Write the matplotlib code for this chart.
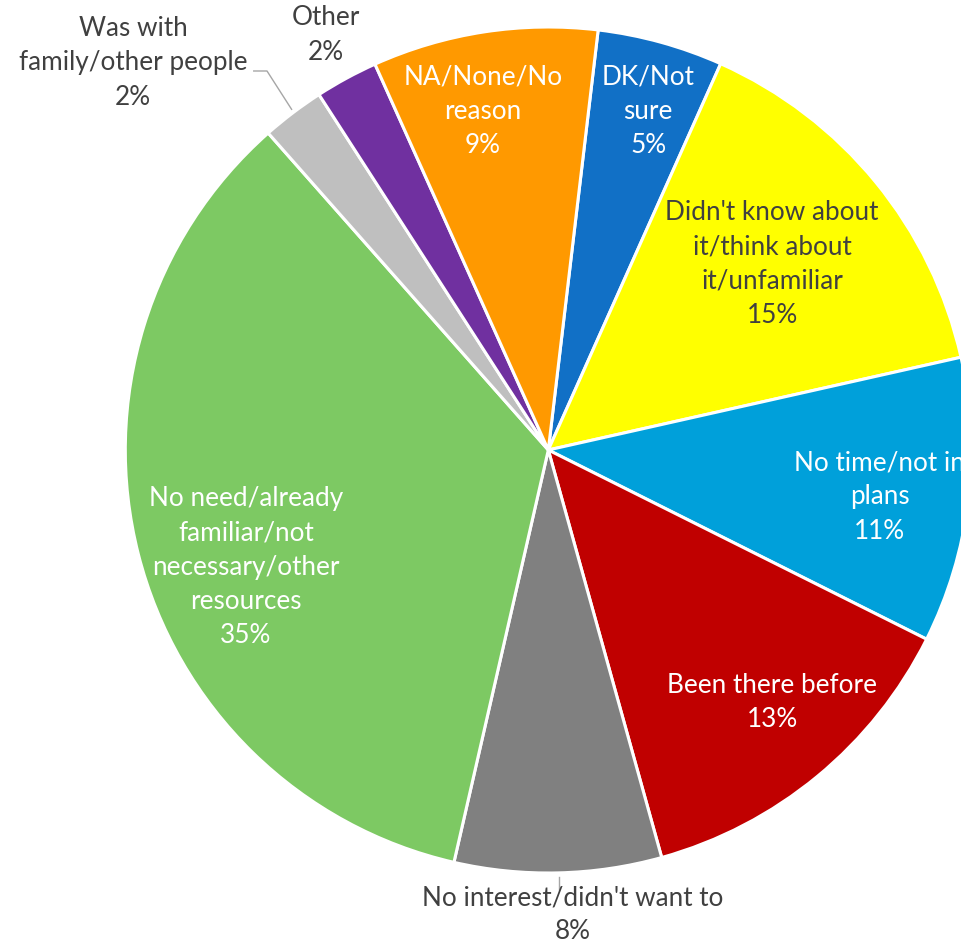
import matplotlib
matplotlib.use("Agg")
import matplotlib.pyplot as plt

# Reasons for not visiting (share of respondents, %)
categories = [
    "DK/Not\nsure",
    "Didn't know about\nit/think about\nit/unfamiliar",
    "No time/not in\nplans",
    "Been there before",
    "No interest/didn't want to",
    "No need/already\nfamiliar/not\nnecessary/other\nresources",
    "Was with\nfamily/other people",
    "Other",
    "NA/None/No\nreason",
]
shares = [4.8, 14.8, 10.9, 13.3, 7.9, 34.9, 2.4, 2.4, 8.6]

colors = ["#1170C6", "#FFFF00", "#00A0DA", "#C00000", "#808080",
          "#7DC963", "#BFBFBF", "#7030A0", "#FF9900"]
text_colors = ["white", "#404040", "white", "white", "#404040",
               "white", "#404040", "#404040", "white"]
# label centres in axes data units (pie radius = 1)
label_xy = [(0.236, 0.801), (0.529, 0.440), (0.784, -0.111),
            (0.529, -0.596), (0.058, -1.099), (-0.715, -0.277),
            (-0.982, 0.915), (-0.526, 0.981), (-0.155, 0.801)]

plt.rcParams["font.family"] = ["Lato", "DejaVu Sans"]

W, H = 961, 944
fig = plt.figure(figsize=(W / 100, H / 100), dpi=100)
ax = fig.add_axes([0, 0, 1, 1])

cx, cy, R = 548.3, 450.0, 423.0

ax.pie(shares, colors=colors, startangle=90 - 6.77, counterclock=False,
       radius=1.0, center=(0, 0), frame=False,
       wedgeprops=dict(edgecolor="white", linewidth=2.2))
ax.set_xlim((0 - cx) / R, (W - cx) / R)
ax.set_ylim((cy - H) / R, (cy - 0) / R)
ax.set_aspect("auto")
ax.axis("off")

for name, val, (x, y), tc in zip(categories, shares, label_xy, text_colors):
    ax.text(x, y, f"{name}\n{val:.0f}%", ha="center", va="center",
            multialignment="center", color=tc, fontsize=18.8,
            linespacing=1.46, clip_on=False)

# leader lines for the outside labels
ax.plot([-0.698, -0.665, -0.606], [0.896, 0.896, 0.804],
        color="#A6A6A6", lw=1.0, solid_capstyle="butt")
ax.plot([0.025, 0.025], [-1.009, -1.040], color="#A6A6A6", lw=1.0)

fig.savefig("out.png", dpi=100, facecolor="white")
